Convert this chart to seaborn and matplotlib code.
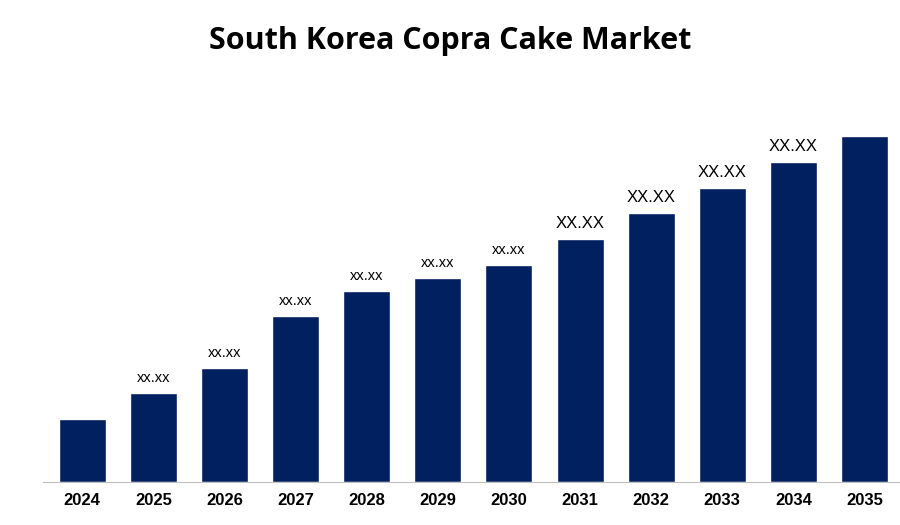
import matplotlib
matplotlib.use("Agg")
import matplotlib.pyplot as plt
import seaborn as sns
import pandas as pd

years = ["2024", "2025", "2026", "2027", "2028", "2029", "2030",
         "2031", "2032", "2033", "2034", "2035"]
values = [63, 89, 114, 166, 191, 204, 217, 243, 269, 294, 320, 346]
labels = ["", "xx.xx", "xx.xx", "xx.xx", "xx.xx", "xx.xx", "xx.xx",
          "XX.XX", "XX.XX", "XX.XX", "XX.XX", ""]

df = pd.DataFrame({"year": years, "value": values})

sns.set_style("white")
plt.rcParams["font.family"] = ["Liberation Sans", "DejaVu Sans"]
plt.rcParams["text.color"] = "black"
plt.rcParams["xtick.color"] = "black"

fig = plt.figure(figsize=(9, 5.25), dpi=100)
ax = fig.add_axes([0.048, 0.082, 0.956, 0.76])
sns.barplot(data=df, x="year", y="value", color="#002060", width=0.66,
            saturation=1, ax=ax)

for i, (v, lab) in enumerate(zip(values, labels)):
    if lab:
        size = 12 if lab.isupper() else 10.5
        ax.text(i, v + 8, lab, ha="center", va="bottom", fontsize=size,
                color="black")

ax.set_ylim(0, 399)
ax.set_xlim(-0.55, 11.55)
ax.set_xlabel("")
ax.set_ylabel("")
ax.set_yticks([])
for s in ["top", "right", "left"]:
    ax.spines[s].set_visible(False)
ax.spines["bottom"].set_color("#bfbfbf")
ax.tick_params(axis="x", length=0, pad=8, colors="black")
for t in ax.get_xticklabels():
    t.set_fontweight("bold")
    t.set_fontsize(12)

fig.suptitle("South Korea Copra Cake Market", fontsize=22, fontweight="bold",
             y=0.95, color="black", family=["Open Sans", "DejaVu Sans"])
fig.savefig("out.png", dpi=100)
